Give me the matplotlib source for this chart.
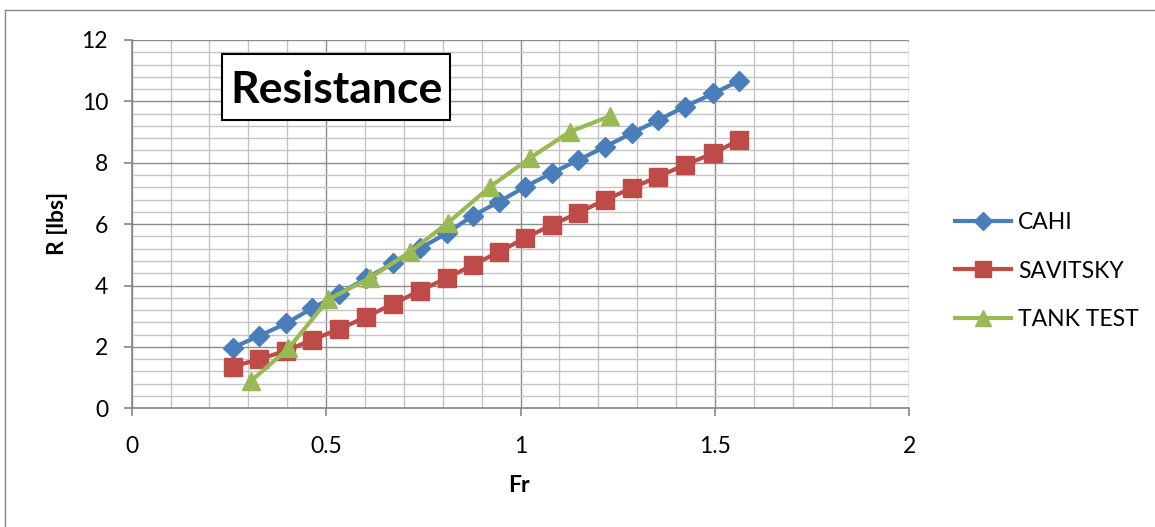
import matplotlib
matplotlib.use("Agg")
import matplotlib.pyplot as plt
from matplotlib.patches import Rectangle
from matplotlib.lines import Line2D
from matplotlib.ticker import MultipleLocator

plt.rcParams['font.family'] = ['Lato', 'DejaVu Sans']

# ---- data ----
fr_calc = [0.261, 0.328, 0.398, 0.464, 0.532, 0.603, 0.672, 0.741, 0.810, 0.878,
           0.945, 1.012, 1.080, 1.149, 1.217, 1.286, 1.354, 1.423, 1.496, 1.563]
cahi = [1.98, 2.36, 2.77, 3.26, 3.71, 4.24, 4.72, 5.21, 5.70, 6.28,
        6.73, 7.22, 7.66, 8.09, 8.52, 8.96, 9.39, 9.83, 10.26, 10.67]
savitsky = [1.36, 1.60, 1.88, 2.23, 2.57, 2.98, 3.40, 3.83, 4.24, 4.67,
            5.10, 5.55, 5.97, 6.37, 6.79, 7.17, 7.55, 7.93, 8.31, 8.74]
fr_tank = [0.306, 0.403, 0.506, 0.613, 0.716, 0.814, 0.922, 1.024, 1.127, 1.230]
tank = [0.88, 1.95, 3.55, 4.25, 5.10, 6.05, 7.22, 8.15, 9.01, 9.52]

series_names = ["CAHI", "SAVITSKY", "TANK TEST"]
x_ticks = [0, 0.5, 1, 1.5, 2]
x_tick_labels = ['0', '0.5', '1', '1.5', '2']
y_ticks = [0, 2, 4, 6, 8, 10, 12]
y_tick_labels = ['0', '2', '4', '6', '8', '10', '12']
colors = ["#4A7EBB", "#BE4B48", "#98B954"]

W, H = 1155, 527
fig = plt.figure(figsize=(W / 100, H / 100), dpi=100)
ax = fig.add_axes([131.7 / W, 1 - 408.3 / H, (909.3 - 131.7) / W, (408.3 - 40) / H])

ax.set_xlim(0, 2)
ax.set_ylim(0, 12)
ax.set_xticks(x_ticks)
ax.set_xticklabels(x_tick_labels)
ax.set_yticks(y_ticks)
ax.set_yticklabels(y_tick_labels)
ax.xaxis.set_minor_locator(MultipleLocator(0.1))
ax.yaxis.set_minor_locator(MultipleLocator(0.4))
ax.grid(which='minor', color='#C4C4C4', lw=1.0, zorder=0)
ax.grid(which='major', color='#8C8C8C', lw=1.0, zorder=0)
ax.set_axisbelow(True)
for s in ['top', 'right']:
    ax.spines[s].set_visible(False)
for s in ['left', 'bottom']:
    ax.spines[s].set_color('#868686')
    ax.spines[s].set_linewidth(1.2)
ax.tick_params(which='major', direction='out', length=6, width=1.2, color='#868686',
               labelsize=16.5)
ax.tick_params(axis='x', pad=14)
ax.tick_params(axis='y', pad=11)
ax.tick_params(which='minor', length=0)

ax.plot(fr_calc, cahi, color=colors[0], lw=3.0, marker='D', ms=10.5, mec=colors[0],
        clip_on=False, zorder=3, label=series_names[0])
ax.plot(fr_calc, savitsky, color=colors[1], lw=3.0, marker='s', ms=13.5, mec=colors[1],
        clip_on=False, zorder=3, label=series_names[1])
ax.plot(fr_tank, tank, color=colors[2], lw=3.0, marker='^', ms=13.5, mec=colors[2],
        clip_on=False, zorder=4, label=series_names[2])

fig.text(519 / W, 1 - 486 / H, "Fr", fontsize=16.5, fontweight='bold', ha='center', va='center')
fig.text(57 / W, 1 - 223 / H, "R [lbs]", fontsize=16.5, fontweight='bold', rotation=90,
         ha='center', va='center')

# title box
fig.patches.append(Rectangle((222 / W, 1 - 120 / H), (450 - 222) / W, (120 - 54) / H,
                             transform=fig.transFigure, facecolor='white', edgecolor='black',
                             lw=1.5, zorder=5))
fig.text(336 / W, 1 - 90 / H, "Resistance", fontsize=32, fontweight='bold',
         ha='center', va='center', zorder=6)

# outer chart border (left and top visible)
fig.add_artist(Line2D([5 / W, 5 / W], [0, 1 - 9.5 / H], transform=fig.transFigure,
                      color='#868686', lw=1.0))
fig.add_artist(Line2D([5 / W, 1], [1 - 9.5 / H, 1 - 9.5 / H], transform=fig.transFigure,
                      color='#868686', lw=1.0))

leg = fig.legend(loc='center left', bbox_to_anchor=(955 / W, 1 - 271 / H), frameon=False,
                 fontsize=16.5, handlelength=2.45, handletextpad=0.3, borderpad=0,
                 borderaxespad=0, labelspacing=1.2, markerscale=0.85)

fig.savefig("out.png", dpi=100)
